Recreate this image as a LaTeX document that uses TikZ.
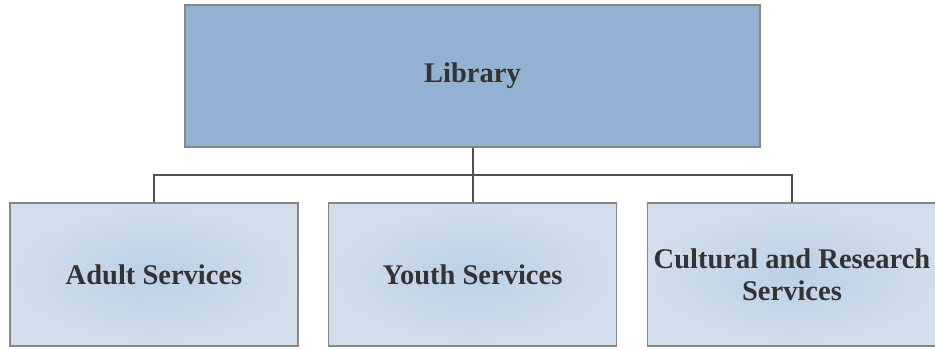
\documentclass[tikz,border=0pt]{standalone}
\usepackage{fontspec}
\setmainfont{Liberation Serif}
\definecolor{topfill}{HTML}{93B1D2}
\definecolor{boxedge}{HTML}{878787}
\definecolor{lineclr}{HTML}{505050}
\definecolor{txt}{HTML}{333333}
\definecolor{inblue}{HTML}{BCD0E6}
\definecolor{outblue}{HTML}{D2DEEB}
\begin{document}
\begin{tikzpicture}[x=1pt,y=-1pt,
  topbox/.style={draw=boxedge,line width=1.6pt,fill=topfill,minimum width=575pt,minimum height=142pt,inner sep=0pt,font=\fontsize{28.5}{32}\selectfont\bfseries,text=txt},
  subbox/.style={draw=boxedge,line width=1.6pt,inner color=inblue,outer color=outblue,minimum width=288pt,minimum height=143pt,inner sep=0pt,align=center,font=\fontsize{28.5}{32}\selectfont\bfseries,text=txt},
  conn/.style={draw=lineclr,line width=2pt}]
\useasboundingbox (0,0) rectangle (935,349);
\node[topbox] (lib) at (472.5,76) {Library};
\node[subbox] (adult) at (154,274.5) {Adult Services};
\node[subbox] (youth) at (472.5,274.5) {Youth Services};
\node[subbox,minimum width=294pt] (cult) at (794.5,274.5) {};
\node[align=center,inner sep=0pt,font=\fontsize{28.5}{32}\selectfont\bfseries,text=txt] (cultlabel) at (792,274.5) {Cultural and Research\\Services};
\coordinate (j) at (472.5,175);
\coordinate (cj) at (792,175);
\draw[conn] (lib.south) -- (j);
\draw[conn] (adult.north) |- (j) -- (cj) -- (cj |- cult.north);
\draw[conn] (j) -- (youth.north);
\end{tikzpicture}
\end{document}
